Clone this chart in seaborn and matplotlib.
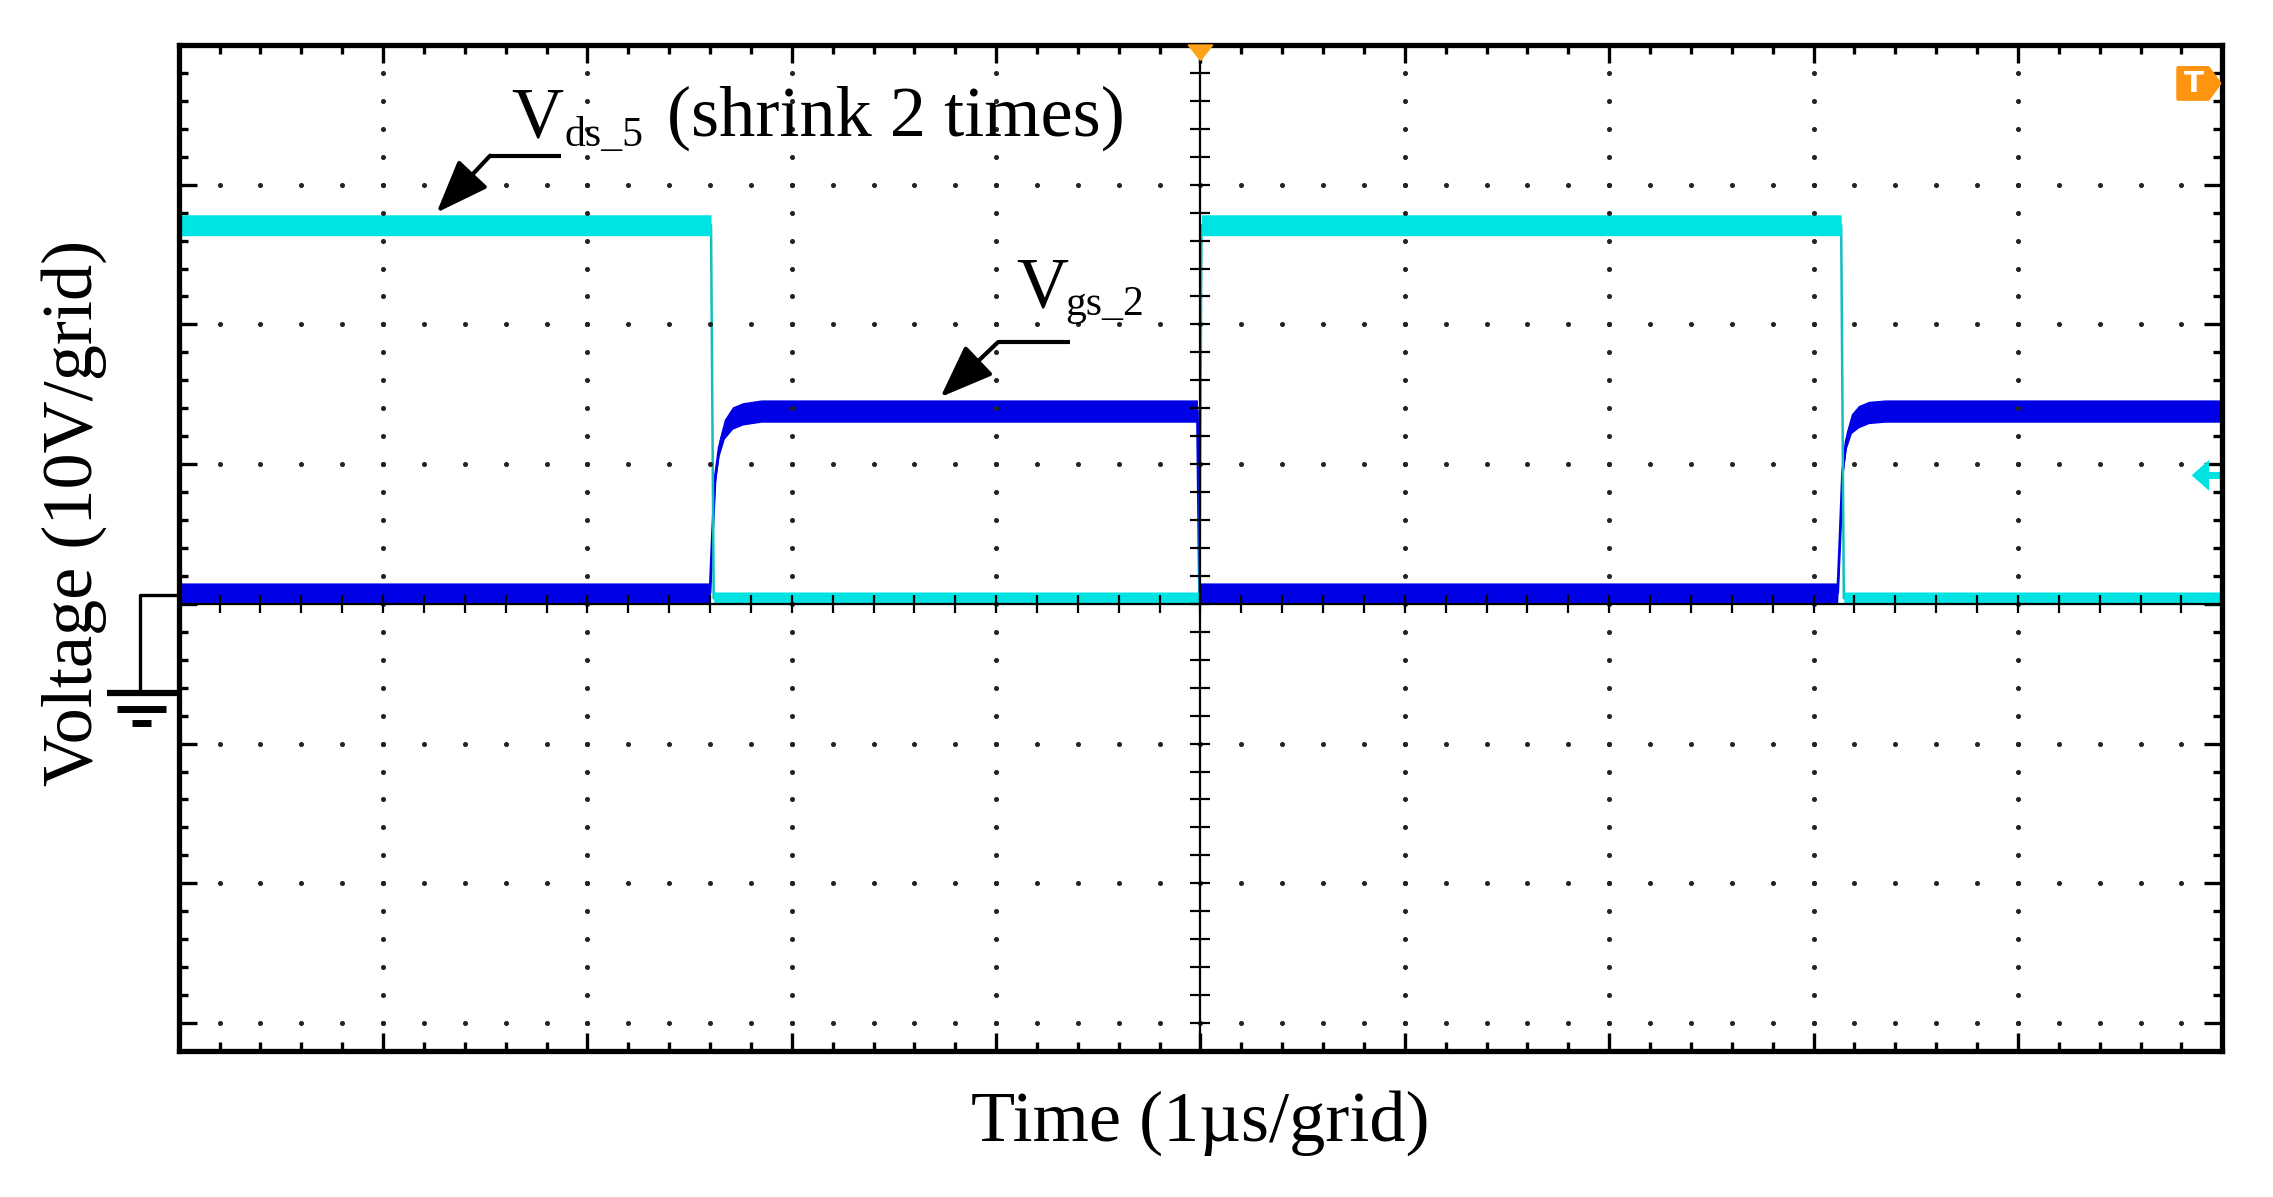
import numpy as np
import matplotlib
matplotlib.use("Agg")
import matplotlib.pyplot as plt
from matplotlib.patches import Polygon
from matplotlib.ticker import MultipleLocator
import seaborn as sns

# scope traces
# x in divisions (1 us each), y in divisions (10 V each), 0 = ground marker
vds_t = [0.0, 2.605, 2.618, 4.995, 5.005, 8.135, 8.148, 10.0]
vds_v = [2.71, 2.71, 0.04, 0.04, 2.71, 2.71, 0.04, 0.04]
vds_band = [0.075, 0.075, 0.045, 0.045, 0.075, 0.075, 0.045, 0.045]   # half width of the noise band

vgs_t = [0.0, 2.600, 2.612, 2.625, 2.645, 2.67, 2.71, 2.76, 2.85, 4.985, 4.995,
         8.118, 8.130, 8.142, 8.160, 8.185, 8.22, 8.27, 8.35, 10.0]
vgs_v = [0.08, 0.08, 0.50, 0.90, 1.12, 1.25, 1.33, 1.36, 1.38, 1.38, 0.08,
         0.08, 0.50, 0.95, 1.17, 1.29, 1.34, 1.37, 1.38, 1.38]
vgs_band = [0.07, 0.07, 0.05, 0.05, 0.06, 0.07, 0.08, 0.08, 0.08, 0.08, 0.07,
            0.07, 0.05, 0.05, 0.06, 0.07, 0.08, 0.08, 0.08, 0.08]

x_label = "Time (1µs/grid)"
y_label = "Voltage (10V/grid)"

n_xdiv = 10
y_top, y_bottom = 4, -3.2

cyan = "#00E3E3"
blue = "#0000E6"
orange = "#FF9410"

sns.set_theme(style="white")
plt.rcParams["font.family"] = ["Liberation Serif", "DejaVu Serif"]
plt.rcParams["text.color"] = "black"
plt.rcParams["axes.labelcolor"] = "black"

fig = plt.figure(figsize=(22.73, 11.97), dpi=100)
ax = fig.add_axes([0.0786, 0.1220, 0.8991, 0.8404])

# traces: thin centre line under a noise band
sns.lineplot(x=vgs_t, y=vgs_v, ax=ax, color=blue, lw=2, estimator=None, zorder=2)
ax.fill_between(vgs_t, np.array(vgs_v) - vgs_band, np.array(vgs_v) + vgs_band,
                color=blue, lw=0, zorder=2.2)
sns.lineplot(x=vds_t, y=vds_v, ax=ax, color="#14BCBE", lw=1.8, estimator=None, zorder=3)
ax.fill_between(vds_t, np.array(vds_v) - vds_band, np.array(vds_v) + vds_band,
                color=cyan, lw=0, zorder=3.2)

ax.set_xlim(0, n_xdiv)
ax.set_ylim(y_bottom, y_top)

# dotted graticule
minor_x = np.arange(0, n_xdiv + 0.001, 0.2)
minor_y = np.arange(y_bottom, y_top + 0.001, 0.2)
for xm in range(1, n_xdiv):
    if xm == 5:
        continue
    ax.plot(np.full(len(minor_y), xm), minor_y, ls="none", marker="o", ms=2.6,
            color="#222222", zorder=6)
for ym in range(-3, 4):
    if ym == 0:
        continue
    ax.plot(minor_x, np.full(len(minor_x), ym), ls="none", marker="o", ms=2.6,
            color="#222222", zorder=6)

# centre axes with small ticks
ax.axhline(0, color="black", lw=1.6, zorder=6)
ax.axvline(5, color="black", lw=1.6, zorder=6)
ax.plot(minor_x, np.zeros(len(minor_x)), ls="none", marker="|", ms=13, mew=1.6,
        color="black", zorder=6)
ax.plot(np.full(len(minor_y), 5), minor_y, ls="none", marker="_", ms=14, mew=1.6,
        color="black", zorder=6)

# frame ticks
ax.xaxis.set_major_locator(MultipleLocator(1))
ax.xaxis.set_minor_locator(MultipleLocator(0.2))
ax.yaxis.set_major_locator(MultipleLocator(1))
ax.yaxis.set_minor_locator(MultipleLocator(0.2))
ax.tick_params(which="both", direction="in", top=True, right=True, bottom=True, left=True,
               labelbottom=False, labelleft=False, color="black", width=2.4)
ax.tick_params(which="major", length=13)
ax.tick_params(which="minor", length=6.5)
for sp in ax.spines.values():
    sp.set_visible(True)
    sp.set_color("black")
    sp.set_linewidth(3.8)
    sp.set_zorder(8)
ax.grid(False)

# axis labels
ax.set_xlabel(x_label, fontsize=52, color="black")
ax.xaxis.set_label_coords(0.5, -0.039)
ax.set_ylabel(y_label, fontsize=52, color="black")
ax.yaxis.set_label_coords(-0.035, 0.535)

# trace labels with arrows
ax.text(1.626, 3.348, "V", fontsize=52, va="baseline", ha="left", zorder=9)
ax.text(1.890, 3.277, "ds_5", fontsize=30, va="baseline", ha="left", zorder=9)
ax.text(2.389, 3.348, "(shrink 2 times)", fontsize=52, va="baseline", ha="left", zorder=9)
ax.plot([1.871, 1.524], [3.208, 3.208], color="black", lw=3, solid_capstyle="butt", zorder=9)
ax.annotate("", xy=(1.262, 2.80), xytext=(1.524, 3.208),
            arrowprops=dict(arrowstyle="-|>,head_length=1.1,head_width=0.42",
                            mutation_scale=30, lw=3, color="black", shrinkA=0, shrinkB=0),
            zorder=9)

ax.text(4.097, 2.131, "V", fontsize=52, va="baseline", ha="left", zorder=9)
ax.text(4.337, 2.067, "gs_2", fontsize=30, va="baseline", ha="left", zorder=9)
ax.plot([4.361, 4.009], [1.873, 1.873], color="black", lw=3, solid_capstyle="butt", zorder=9)
ax.annotate("", xy=(3.728, 1.48), xytext=(4.009, 1.873),
            arrowprops=dict(arrowstyle="-|>,head_length=1.1,head_width=0.42",
                            mutation_scale=30, lw=3, color="black", shrinkA=0, shrinkB=0),
            zorder=9)

# ground marker at the left of the screen
gnd = dict(color="black", clip_on=False, solid_capstyle="butt", zorder=9)
ax.plot([0, -0.189, -0.189], [0.061, 0.061, -0.63], lw=2.4, **gnd)
ax.plot([-0.35, 0], [-0.635, -0.635], lw=4.5, **gnd)
ax.plot([-0.30, -0.062], [-0.75, -0.75], lw=5, **gnd)
ax.plot([-0.228, -0.133], [-0.85, -0.85], lw=5, **gnd)

# trigger markers
ax.add_patch(Polygon([(4.94, 4.0), (5.06, 4.0), (5.0, 3.89)], closed=True,
                     color="#FFA418", clip_on=False, zorder=10))
ax.add_patch(Polygon([(9.785, 3.835), (9.93, 3.835), (9.985, 3.725), (9.93, 3.615),
                      (9.785, 3.615)], closed=True, facecolor=orange, edgecolor=orange,
                     lw=3, joinstyle="round", zorder=10))
ax.text(9.862, 3.722, "T", fontsize=21, fontweight="bold", family="DejaVu Sans",
        color="white", ha="center", va="center", zorder=11)

# channel level marker on the right
ax.add_patch(Polygon([(9.85, 0.92), (9.935, 1.03), (9.935, 0.81)], closed=True,
                     color=cyan, lw=0, zorder=7))
ax.plot([9.93, 10], [0.92, 0.92], color=cyan, lw=5, solid_capstyle="butt", zorder=7)

fig.savefig("out.png", dpi=100, facecolor="white")
